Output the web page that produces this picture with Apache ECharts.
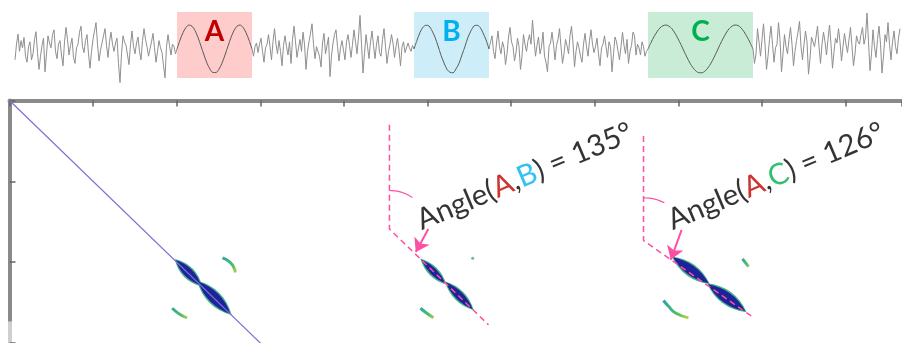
<!DOCTYPE html>
<html>
<head>
<meta charset="utf-8">
<script src="https://cdn.jsdelivr.net/npm/echarts@6/dist/echarts.min.js"></script>
<style>
html, body { margin: 0; padding: 0; background: #fff; }
#chart { width: 902px; height: 343px; }
</style>
</head>
<body>
<div id="chart"></div>
<script>
// ---- top strip: noise samples one per x unit, sine samples every 2 units ----
var noise1Start = 0, sineAStart = 108, noise2Start = 158, sineBStart = 266;
var noise3Start = 316, sineCStart = 422, noise4Start = 492;

var noise1 = [-0.45, 0.20, 0.62, -0.10, 0.35, 0.05, 0.48, -0.30, -0.55, 0.10,
  0.30, -0.45, -0.20, 0.40, 0.72, -0.15, -0.85, -0.30, 0.15, 0.45,
  -0.95, -0.20, 0.55, 0.25, 0.05, 0.60, 0.80, -0.10, -0.40, 0.20,
  0.35, -0.25, -0.70, 0.30, 0.90, 0.40, -0.25, 0.15, 0.45, -0.35,
  -0.60, 0.05, 0.20, 0.70, 0.95, 0.10, -0.15, 0.35, 0.60, -0.20,
  -0.80, -0.10, 0.40, 0.75, 1.10, 0.20, -0.50, -0.05, 0.25, 0.55,
  0.85, 0.15, -0.35, 0.30, 0.70, 0.20, -0.10, 0.25, 0.45, -0.60,
  -1.40, -0.20, 0.55, 0.30, 0.15, -0.25, -0.65, 0.20, 0.75, 0.10,
  -0.20, 0.25, 0.50, -0.10, -0.45, 0.35, 0.85, 0.40, 0.10, -0.30,
  -0.30, 0.30, 0.65, 0.05, -0.55, -0.10, 0.35, 0.05, -0.15, -0.70,
  -1.20, 0.10, 0.60, 0.15, -0.25, 0.20, 0.10, -0.20, 0.00];
var noise2 = [0.00, -0.30, 0.10, 0.25, -0.15, 0.20, 0.45, -0.10, -0.55, 0.05,
  0.20, 0.60, 0.10, -0.45, 0.30, 0.85, 0.20, -0.20, 0.35, -0.10,
  -0.70, 0.15, 0.55, 0.10, -0.25, 0.30, -0.60, 0.40, 0.95, 0.30,
  -0.35, 0.05, 0.40, -0.10, 0.70, 0.20, -0.85, -0.10, 0.30, 0.65,
  1.05, 0.20, -0.40, 0.10, 0.15, -0.30, -0.75, 0.25, 0.65, -0.20,
  -0.20, 0.50, -1.15, -0.30, 0.25, 0.60, 0.80, 0.10, -0.50, 0.05,
  0.35, -0.05, -0.45, 0.30, 0.60, 0.15, -0.35, 0.20, 0.80, 0.30,
  -0.20, 0.50, 1.40, 0.20, -1.00, -0.20, 0.60, 0.10, -0.40, 0.30,
  0.75, 0.15, -0.40, 0.20, 0.55, -0.15, -0.30, 0.40, 0.85, 0.10,
  -0.60, -0.10, 0.20, 0.60, 0.25, -0.35, 0.10, 0.45, -0.05, -0.70,
  0.10, 0.30, -0.15, -0.20, 0.25, 0.05, -0.10, 0.15, 0.00];
var noise3 = [0.00, 0.30, 0.55, -0.10, -0.40, 0.25, 0.75, 0.10, -0.20, 0.30,
  0.05, -0.65, -0.20, 0.50, 0.90, 0.30, 0.10, -0.50, -0.15, 0.45,
  0.10, -0.85, -0.30, 0.60, 0.20, -0.10, 0.35, 0.60, 0.20, 1.20,
  0.40, -0.30, 0.15, 0.50, -0.20, 0.10, 0.70, -0.30, -0.55, -0.95,
  0.10, 0.25, 0.70, 0.20, -0.45, 0.15, 0.40, 0.85, 0.10, -0.60,
  -0.20, 0.40, 0.15, -0.20, 0.55, 0.95, 0.25, -0.75, -0.10, 0.30,
  0.05, -0.30, -0.55, 0.20, 0.65, 0.10, -0.30, 0.35, 0.80, 0.20,
  -0.15, 0.10, 0.45, -0.20, -0.70, 0.05, 0.20, 0.55, 0.10, -0.35,
  0.30, 0.10, -0.95, -0.20, 0.50, 0.30, 0.25, -0.45, 0.10, 0.70,
  0.15, -0.20, 0.40, -0.60, -0.10, 0.15, 0.70, 0.55, -0.25, 0.20,
  0.05, -0.25, 0.30, 0.10, -0.30, -0.10, 0.00];
var noise4 = [0.00, -0.60, -0.20, 0.85, 0.30, -0.30, 0.40, 1.05, 0.20, -0.85,
  -0.30, 0.40, 0.95, 0.20, -0.55, 0.05, 0.20, 1.10, 0.40, -0.95,
  -0.20, 0.60, 0.10, -0.20, 0.40, 0.90, 0.20, -0.70, -0.10, 0.35,
  0.70, 1.15, 0.10, -0.45, 0.20, 0.75, 0.30, -1.05, -0.40, 0.50,
  0.30, 0.10, 0.50, 0.95, 0.10, -0.60, 0.20, 0.70, 0.30, -0.25,
  0.40, 1.00, 0.20, -0.80, -0.10, 0.45, 0.25, 0.85, 0.30, -0.50,
  0.10, 0.65, 0.20, -0.15, 0.40, 0.90, 0.10, -0.70, -0.20, 0.55,
  0.30, 0.20, 0.60, 0.90, 0.20, 0.50, 1.50, 0.30, -0.90, -0.20,
  0.80, 0.10, -0.35, 0.40, 0.95, 0.20, -1.00, -0.30, 0.60, 0.30,
  1.10, 0.20, -0.45, 0.30, 0.75, 0.10, -0.20, 0.45, 0.85];

var sineA = [0, 0.37, 0.68, 0.90, 1.00, 0.95, 0.77, 0.48, 0.12, -0.25, -0.59, -0.84, -0.98, -0.98, -0.84, -0.59, -0.25, 0.12,
  0.48, 0.77, 0.95, 1.00, 0.90, 0.68, 0.37, 0];
var sineB = [0, 0.36, 0.69, 0.91, 0.99, 0.96, 0.76, 0.49, 0.13, -0.26, -0.58, -0.85, -0.97, -0.99, -0.83, -0.60, -0.24, 0.11,
  0.49, 0.76, 0.96, 0.99, 0.91, 0.67, 0.38, 0];
var sineC = [0, 0.27, 0.51, 0.72, 0.88, 0.97, 1.00, 0.95, 0.84, 0.66, 0.43, 0.18, -0.09, -0.35, -0.59, -0.78, -0.92, -0.99,
  -0.99, -0.92, -0.78, -0.59, -0.35, -0.09, 0.18, 0.43, 0.66, 0.84, 0.95, 1.00, 0.98, 0.88, 0.72, 0.51, 0.27, 0];

var boxNames = ["A", "B", "C"];
var boxFrom = [108, 266, 422];
var boxTo = [158, 316, 492];
var boxTop = 1.54, boxBottom = -1.21;
var boxColors = ["#ffcccc", "#cdeef9", "#c9ecd7"];
var letterColors = ["#c00000", "#00b0f0", "#00b050"];

// ---- lower panel ----
var diagA = [[0, 0], [3.2, 3.2]];
var blobsA = [[2.14, 2.13], [2.45, 2.44]];
var blobsB = [[5.07, 2.115], [5.38, 2.415]];
var blobsC = [[8.15, 2.10], [8.58, 2.44]];
var guideB = [[4.545, 0.30], [4.545, 1.59], [5.73, 2.775]];
var guideC = [[7.584, 0.44], [7.584, 1.733], [8.888, 2.677]];
var arcB = [[4.545, 1.113], [4.603, 1.117], [4.661, 1.127], [4.716, 1.145], [4.769, 1.169], [4.819, 1.199]];
var arcC = [[7.584, 1.203], [7.649, 1.207], [7.712, 1.219], [7.774, 1.238], [7.833, 1.265]];
var arrowB = [[5.01, 1.59], [4.86, 1.875]];
var arrowC = [[8.04, 1.60], [7.91, 1.97]];
var crescents = [
  [[2.548, 1.948], [2.632, 1.996], [2.679, 2.056], [2.703, 2.127]],
  [[1.946, 2.570], [2.045, 2.650], [2.125, 2.689]],
  [[4.916, 2.570], [4.988, 2.629], [5.072, 2.689]],
  [[8.768, 1.960], [8.840, 2.056]],
  [[7.823, 2.474], [7.883, 2.546], [7.967, 2.629], [8.122, 2.689]]
];
var specks = [[5.54, 1.95]];
var labelB = [4.958, 1.669], labelC = [7.96, 1.669];
var angleAB = 135, angleAC = 126;

var PINK = "#ff4fa3";
var lens = "path://M0,5 Q50,-5 100,5 Q50,15 0,5 Z";
var blobSizes = { A: [[36, 9], [46, 11]], B: [[34, 7], [38, 8]], C: [[44, 10], [46, 11]] };

function seg(start, step, values) {
  return values.map(function (v, i) { return [start + i * step, v]; });
}
function lineSeries(data, color, width, extra) {
  var s = {
    type: "line", xAxisIndex: 1, yAxisIndex: 1, data: data, showSymbol: false, symbol: "none",
    silent: true, animation: false, lineStyle: { color: color, width: width }
  };
  for (var k in extra) s[k] = extra[k];
  return s;
}
function blobSeries(points, sizes, rot, color, grow) {
  return {
    type: "scatter", xAxisIndex: 1, yAxisIndex: 1, symbol: lens, symbolRotate: rot, silent: true, animation: false,
    itemStyle: { color: color, opacity: 1 },
    data: points.map(function (p, i) {
      return { value: p, symbolSize: [sizes[i][0] + grow, sizes[i][1] + grow] };
    })
  };
}
function angleLabel(pos, other, otherColor, deg) {
  var f = { fontSize: 29.5, fontFamily: "Lato" };
  return {
    type: "scatter", xAxisIndex: 1, yAxisIndex: 1, symbolSize: 0, silent: true, animation: false,
    data: [pos],
    label: {
      show: true, position: "inside", align: "left", verticalAlign: "bottom", rotate: 23,
      formatter: "{t|Angle(}{a|A}{t|,}{o|" + other + "}{t|) = " + deg + "°}",
      rich: {
        t: Object.assign({ color: "#000" }, f),
        a: Object.assign({ color: "#c00000" }, f),
        o: Object.assign({ color: otherColor }, f)
      }
    }
  };
}

var topSeries = [];
[[noise1Start, noise1], [noise2Start, noise2], [noise3Start, noise3], [noise4Start, noise4]].forEach(function (s) {
  topSeries.push({
    type: "line", xAxisIndex: 0, yAxisIndex: 0, data: seg(s[0], 1, s[1]), showSymbol: false, symbol: "none",
    silent: true, animation: false, lineStyle: { color: "#8f8f8f", width: 1 }
  });
});
[[sineAStart, sineA], [sineBStart, sineB], [sineCStart, sineC]].forEach(function (s, i) {
  topSeries.push({
    type: "line", xAxisIndex: 0, yAxisIndex: 0, data: seg(s[0], 2, s[1]), showSymbol: false, symbol: "none",
    smooth: 0.3, silent: true, animation: false, lineStyle: { color: "#5a5a5a", width: 1 },
    markArea: {
      silent: true,
      itemStyle: { color: boxColors[i], opacity: 1 },
      label: {
        show: true, position: "insideTop", distance: 6, color: letterColors[i],
        fontSize: 28, fontWeight: "bold", fontFamily: "Lato"
      },
      data: [[{ name: boxNames[i], xAxis: boxFrom[i], yAxis: boxTop }, { xAxis: boxTo[i], yAxis: boxBottom }]]
    }
  });
});

var lowSeries = [
  lineSeries(diagA, "#7a72d8", 1.2, {}),
  blobSeries(blobsA, blobSizes.A, -45, "#48b48a", 3),
  blobSeries(blobsA, blobSizes.A, -45, "#1f2399", 0),
  blobSeries(blobsB, blobSizes.B, -45, "#48b48a", 3),
  blobSeries(blobsB, blobSizes.B, -45, "#1f2399", 0),
  blobSeries(blobsC, blobSizes.C, -36, "#48b48a", 3),
  blobSeries(blobsC, blobSizes.C, -36, "#1f2399", 0),
  lineSeries(guideB, PINK, 1.5, { lineStyle: { color: PINK, width: 1.5, type: [6, 4] } }),
  lineSeries(guideC, PINK, 1.5, { lineStyle: { color: PINK, width: 1.5, type: [6, 4] } }),
  lineSeries(arcB, PINK, 1.2, { smooth: true }),
  lineSeries(arcC, PINK, 1.2, { smooth: true }),
  lineSeries([], PINK, 1.5, {
    markLine: {
      silent: true, symbol: ["none", "arrow"], symbolSize: 13, animation: false,
      label: { show: false },
      lineStyle: { color: PINK, width: 2, type: "solid", curveness: 0.3 },
      data: [
        [{ coord: arrowB[0] }, { coord: arrowB[1] }],
        [{ coord: arrowC[0] }, { coord: arrowC[1] }]
      ]
    }
  }),
  {
    type: "scatter", xAxisIndex: 1, yAxisIndex: 1, symbolSize: 3, silent: true, animation: false,
    itemStyle: { color: "#3aa8a0" }, data: specks
  },
  angleLabel(labelB, "B", "#00b0f0", angleAB),
  angleLabel(labelC, "C", "#00b050", angleAC)
];
crescents.forEach(function (c) {
  lowSeries.push(lineSeries(c, "#2fa59a", 3, {
    smooth: true,
    lineStyle: {
      width: 3,
      color: new echarts.graphic.LinearGradient(0, 0, 1, 1, [
        { offset: 0, color: "#2a9fb0" }, { offset: 0.6, color: "#4cbf6a" }, { offset: 1, color: "#e0d83a" }
      ])
    }
  }));
});

var tickStyle = { show: true, inside: true, length: 6, lineStyle: { color: "#666", width: 1.5 } };

var option = {
  backgroundColor: "#fff",
  animation: false,
  grid: [
    { left: 15, right: 2, top: 10.6, height: 76.8 },
    { left: 9.5, right: 0, top: 100.5, bottom: -8.3 }
  ],
  xAxis: [
    { type: "value", gridIndex: 0, min: 0, max: 590, show: false },
    {
      type: "value", gridIndex: 1, min: 0, max: 10.676, interval: 1, position: "top",
      axisLine: { show: true, onZero: false, lineStyle: { color: "#8a8a8a", width: 4 } },
      axisTick: tickStyle, axisLabel: { show: false }, splitLine: { show: false }
    }
  ],
  yAxis: [
    { type: "value", gridIndex: 0, min: -1.6, max: 1.6, show: false },
    {
      type: "value", gridIndex: 1, min: 0, max: 3, interval: 1, inverse: true, position: "left",
      axisLine: {
        show: true, onZero: false,
        lineStyle: {
          width: 4,
          color: new echarts.graphic.LinearGradient(0, 0, 0, 1, [
            { offset: 0, color: "#8a8a8a" }, { offset: 0.9, color: "#8a8a8a" },
            { offset: 0.905, color: "#cfcfcf" }, { offset: 1, color: "#cfcfcf" }
          ])
        }
      },
      axisTick: tickStyle, axisLabel: { show: false }, splitLine: { show: false }
    }
  ],
  series: topSeries.concat(lowSeries)
};

echarts.init(document.getElementById("chart")).setOption(option);
</script>
</body>
</html>
